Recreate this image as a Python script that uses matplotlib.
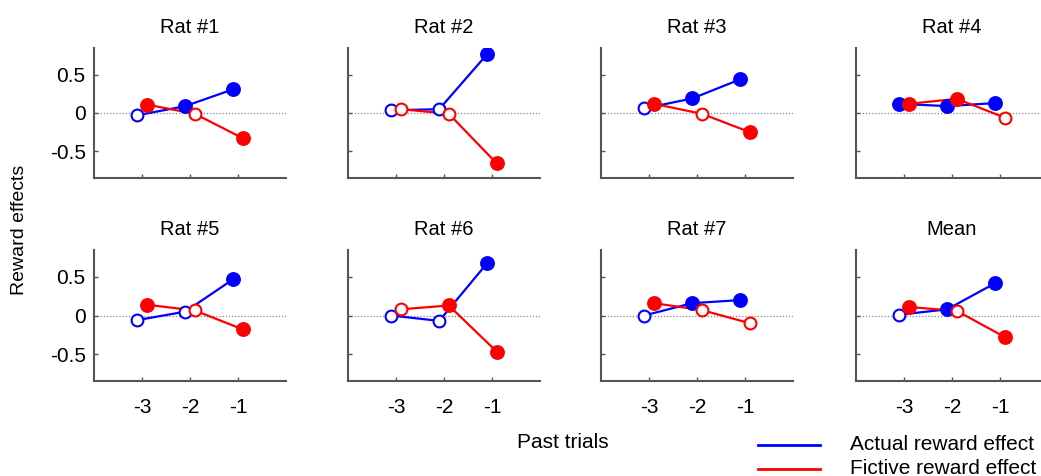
import matplotlib
matplotlib.use("Agg")
import matplotlib.pyplot as plt
from matplotlib.lines import Line2D

plt.rcParams['font.family'] = ['Liberation Sans', 'DejaVu Sans']

titles = ["Rat #1", "Rat #2", "Rat #3", "Rat #4", "Rat #5", "Rat #6", "Rat #7", "Mean"]
trials = [-3, -2, -1]

actual = [
    [-0.03, 0.09, 0.31],
    [0.035, 0.05, 0.77],
    [0.06, 0.19, 0.44],
    [0.12, 0.09, 0.13],
    [-0.06, 0.05, 0.47],
    [0.00, -0.07, 0.68],
    [0.00, 0.16, 0.20],
    [0.01, 0.08, 0.42],
]
actual_sig = [
    [0, 1, 1], [0, 0, 1], [0, 1, 1], [1, 1, 1],
    [0, 0, 1], [0, 0, 1], [0, 1, 1], [0, 1, 1],
]
fictive = [
    [0.11, -0.01, -0.33],
    [0.05, -0.01, -0.66],
    [0.12, -0.01, -0.25],
    [0.12, 0.185, -0.06],
    [0.14, 0.065, -0.18],
    [0.08, 0.13, -0.47],
    [0.16, 0.07, -0.10],
    [0.11, 0.06, -0.28],
]
fictive_sig = [
    [1, 0, 1], [0, 0, 1], [1, 0, 1], [1, 1, 0],
    [1, 0, 1], [0, 1, 1], [1, 0, 0], [1, 0, 1],
]

W, H = 1041, 476
fig = plt.figure(figsize=(W / 100, H / 100), dpi=100)

lefts = [94, 348, 601, 856]
rows = [(48, 178), (250, 381)]
aw = 192
BLUE = (0, 0, 1)
RED = (1, 0, 0)
off = 0.1
spine_c = '#555555'


def draw_series(ax, xs, ys, sig, color):
    ax.plot(xs, ys, color=color, lw=1.6, zorder=3)
    for x, y, s in zip(xs, ys, sig):
        if s:
            ax.plot([x], [y], 'o', ms=9.5, mfc=color, mec=color, mew=1.2, zorder=4)
        else:
            ax.plot([x], [y], 'o', ms=8.5, mfc='white', mec=color, mew=1.5, zorder=4)


for i in range(8):
    r, c = divmod(i, 4)
    top, bot = rows[r]
    ax = fig.add_axes([lefts[c] / W, 1 - bot / H, aw / W, (bot - top) / H])
    ax.axhline(0, color='#888888', lw=0.9, ls=(0, (1, 1.5)), zorder=1)
    draw_series(ax, [t - off for t in trials], actual[i], actual_sig[i], BLUE)
    draw_series(ax, [t + off for t in trials], fictive[i], fictive_sig[i], RED)
    ax.set_xlim(-4, 0)
    ax.set_ylim(-0.85, 0.85)
    ax.set_xticks(trials)
    ax.set_yticks([-0.5, 0, 0.5])
    ax.set_yticklabels(['-0.5', '0', '0.5'])
    ax.set_xticklabels(['-3', '-2', '-1'])
    for s in ['top', 'right']:
        ax.spines[s].set_visible(False)
    for s in ['left', 'bottom']:
        ax.spines[s].set_color(spine_c)
        ax.spines[s].set_linewidth(1.5)
    ax.tick_params(direction='in', length=3, width=1, color=spine_c,
                   labelsize=15)
    ax.tick_params(axis='x', pad=12)
    ax.tick_params(axis='y', pad=6)
    if c != 0:
        ax.tick_params(axis='y', labelleft=False)
    if r == 0:
        ax.tick_params(axis='x', labelbottom=False)
    ax.set_title(titles[i], fontsize=14.5, pad=11)
    ax.patch.set_alpha(0)

fig.text(20 / W, 1 - 230 / H, "Reward effects", rotation=90, fontsize=14,
         ha='center', va='center')
fig.text(563 / W, 1 - 442 / H, "Past trials", fontsize=15, ha='center', va='center')

# legend
for yy, col, lab in [(445, BLUE, "Actual reward effect"), (469, RED, "Fictive reward effect")]:
    fig.add_artist(Line2D([758 / W, 820 / W], [1 - yy / H, 1 - yy / H], color=col, lw=2,
                          transform=fig.transFigure))
    fig.text(850 / W, 1 - yy / H, lab, fontsize=15, ha='left', va='center')

fig.savefig("out.png", dpi=100)
